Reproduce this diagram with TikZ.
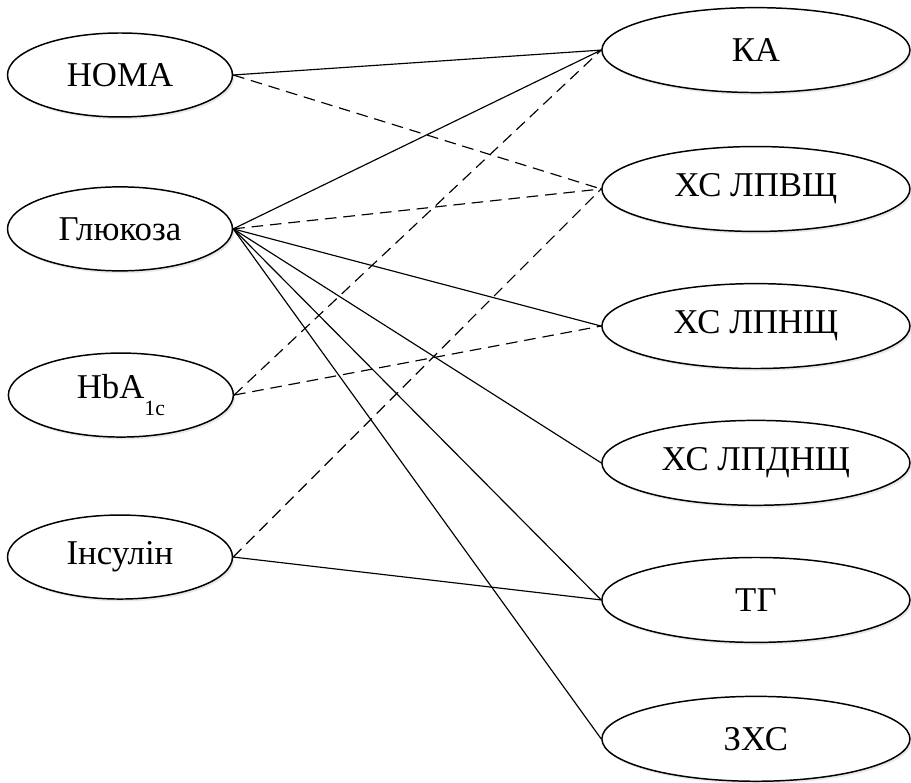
\documentclass[tikz,border=0pt]{standalone}
\usepackage{fontspec}
\setmainfont{Liberation Serif}
\usetikzlibrary{shapes.geometric,shadows}
\newcommand{\lbl}[1]{\scalebox{1.375}{\fontsize{24}{28}\selectfont #1}}

\begin{document}
\begin{tikzpicture}
[
factor/.style 2 args={draw,ellipse,line width=1.4pt,fill=white,inner sep=0pt,
            minimum width=#1,minimum height=#2,
            drop shadow={opacity=0.18,shadow xshift=0.06cm,shadow yshift=-0.08cm}},
cause/.style={factor={7.5cm}{2.8cm}},
effect/.style={factor={10.27cm}{2.83cm}},
link/.style={line width=1.1pt},
weak/.style={link,dash pattern=on 11pt off 6.5pt},
]
\useasboundingbox (0,0) rectangle (30.37,-26.07);

%Place the nodes
\node[cause] (h) at (4,-2.5) {\lbl{HOMA}};
\node[cause] (g) at (4,-7.63) {\lbl{Глюкоза}};
\node[cause] (hb) at (4.03,-13.17) {\lbl{HbA\raisebox{-0.5em}{\fontsize{15}{17}\selectfont 1c}}};
\node[cause] (ins) at (4,-18.57) {\lbl{Інсулін}};

\node[effect] (ka) at (25.2,-1.67) {\lbl{КА}};
\node[effect] (hdl) at (25.2,-6.3) {\lbl{ХС ЛПВЩ}};
\node[effect] (ldl) at (25.2,-10.87) {\lbl{ХС ЛПНЩ}};
\node[effect] (vldl) at (25.2,-15.43) {\lbl{ХС ЛПДНЩ}};
\node[effect] (tg) at (25.2,-20) {\lbl{ТГ}};
\node[effect] (tc) at (25.2,-24.63) {\lbl{ЗХС}};

%Draw the connections
\draw[link] (h.east) -- (ka.west);
\draw[weak] (h.east) -- (hdl.west);

\draw[link] (g.east) -- (ka.west);
\draw[weak] (g.east) -- (hdl.west);
\draw[link] (g.east) -- (ldl.west);
\draw[link] (g.east) -- (vldl.west);
\draw[link] (g.east) -- (tg.west);
\draw[link] (g.east) -- (tc.west);

\draw[weak] (hb.east) -- (ka.west);
\draw[weak] (hb.east) -- (ldl.west);

\draw[weak] (ins.east) -- (hdl.west);
\draw[link] (ins.east) -- (tg.west);
\end{tikzpicture}
\end{document}
